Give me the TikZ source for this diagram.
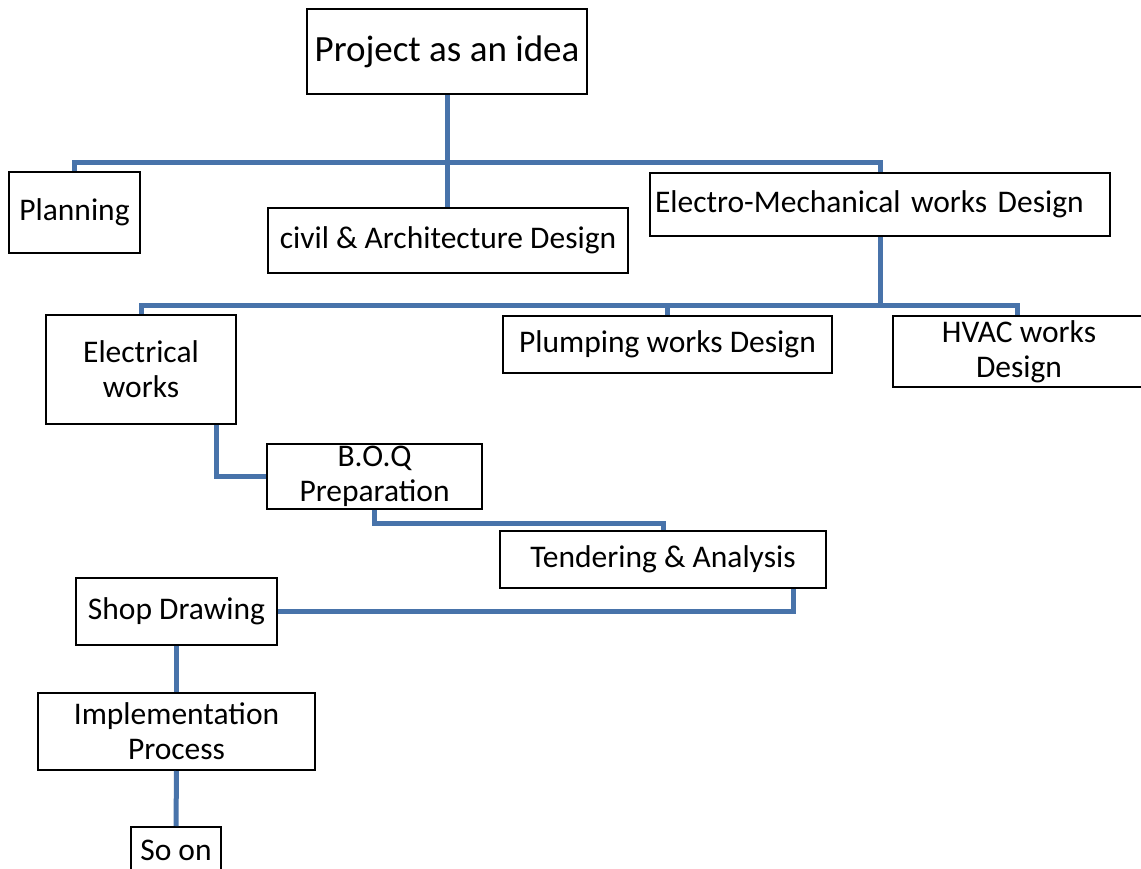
\documentclass[tikz,border=0pt]{standalone}
\usepackage{fontspec}
\setmainfont{Carlito}
\definecolor{linkblue}{RGB}{72,115,170}

\begin{document}
\begin{tikzpicture}[x=1pt, y=-1pt,
    box/.style={draw=black, line width=2pt, fill=white, inner sep=0pt,
      align=center, font=\fontsize{31.5}{35}\selectfont},
    link/.style={draw=linkblue, line width=5pt}]

  \useasboundingbox (0,0) rectangle (1141,869);

  % --- 1. 上段: アイデアと三つの設計 ---
  \node[box, minimum width=280, minimum height=85, font=\fontsize{37}{40}\selectfont]
    (idea) at (447,51.5) {Project as an idea};
  \node[box, minimum width=131, minimum height=81] (plan) at (74.5,212.5) {Planning};
  \node[box, minimum width=360, minimum height=65] (civil) at (448,240.5)
    {civil \& Architecture Design};
  \node[box, minimum width=460, minimum height=63, text width=450, inner xsep=5pt,
    align=left] (elmech) at (880,204.5)
    {Electro-Mechanical works Design};

  % --- 2. 設備の内訳 ---
  \node[box, minimum width=190, minimum height=109] (elec) at (141,369.5)
    {Electrical\\works};
  \node[box, minimum width=329, minimum height=57] (plump) at (667.5,344.5)
    {Plumping works Design};
  \node[box, minimum width=252, minimum height=71] (hvac) at (1019,351.5)
    {HVAC works\\Design};

  % --- 3. 以降の流れ ---
  \node[box, minimum width=215, minimum height=65] (boq) at (374.5,476.5)
    {B.O.Q\\Preparation};
  \node[box, minimum width=326, minimum height=57] (tender) at (663,559.5)
    {Tendering \& Analysis};
  \node[box, minimum width=201, minimum height=67] (shop) at (176.5,611.5)
    {Shop Drawing};
  \node[box, minimum width=277, minimum height=77] (impl) at (176.5,731.5)
    {Implementation\\Process};
  \node[box, minimum width=90, minimum height=46] (soon) at (176,850) {So on};

  % --- 4. 接続線 ---
  \coordinate (bar1) at (447,163);
  \coordinate (bar2) at (880,305);

  \draw[link] (idea.south) -- (bar1);
  \draw[link] (plan.north) |- (bar1) -| (elmech.north);
  \draw[link] (bar1) -- (bar1 |- civil.north);

  \draw[link] (elmech.south) -- (bar2);
  \draw[link] (elec.north) |- (bar2) -| ([xshift=-2pt]hvac.north);
  \draw[link] (plump.north) -- (plump.north |- bar2);

  \draw[link] ([xshift=75pt]elec.south) |- (boq.west);
  \draw[link] (boq.south) -- ++(0,13) -| (tender.north);
  \draw[link] ([xshift=130pt]tender.south) |- (shop.east);
  \draw[link] (shop.south) -- (impl.north);
  \draw[link] (impl.south) -- (soon.north);

\end{tikzpicture}
\end{document}
